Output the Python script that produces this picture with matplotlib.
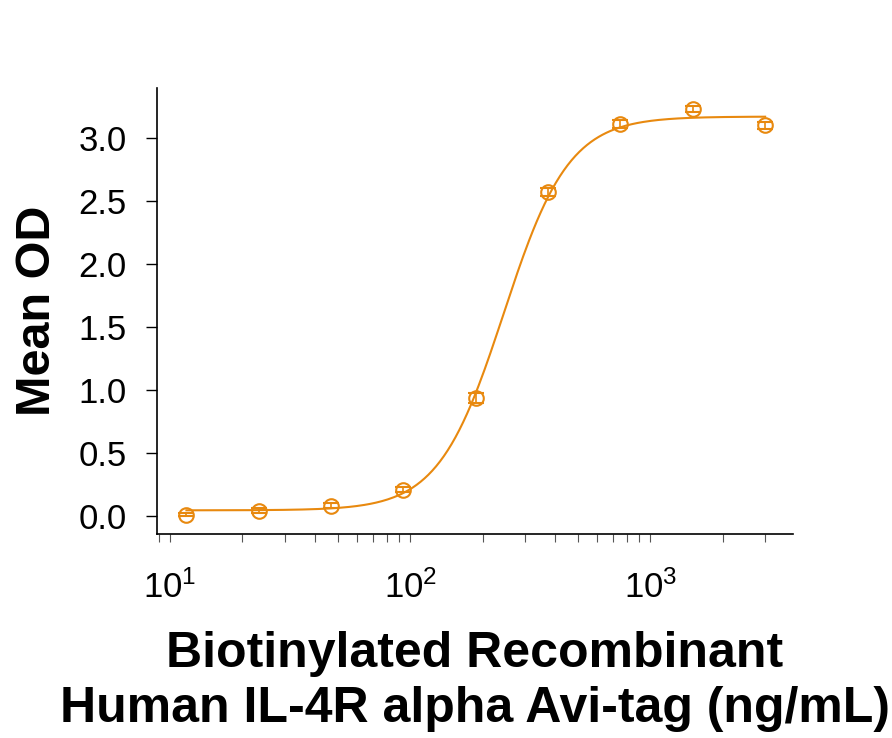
import matplotlib
matplotlib.use("Agg")
import matplotlib.pyplot as plt
import numpy as np

plt.rcParams['font.family'] = ['Liberation Sans', 'DejaVu Sans']
plt.rcParams['mathtext.fontset'] = 'custom'
plt.rcParams['mathtext.rm'] = 'Liberation Sans'
plt.rcParams['mathtext.it'] = 'Liberation Sans'
plt.rcParams['mathtext.default'] = 'regular'

# data
conc = [11.72, 23.44, 46.88, 93.75, 187.5, 375, 750, 1500, 3000]
mean_od = [0.01, 0.04, 0.08, 0.21, 0.94, 2.57, 3.11, 3.23, 3.10]
od_err = [0.01, 0.02, 0.02, 0.02, 0.04, 0.03, 0.03, 0.02, 0.03]

# 4PL fit parameters (bottom, top, ec50, hill)
FIT_BOTTOM = 0.045
FIT_TOP = 3.17
FIT_EC50 = 245
FIT_HILL = 3.2

y_ticks = [0.0, 0.5, 1.0, 1.5, 2.0, 2.5, 3.0]
ORANGE = '#E8890F'

fig = plt.figure(figsize=(8.92, 7.38), dpi=100)
ax = fig.add_axes([0.176, 0.2764, 0.713, 0.6044])

xs = np.logspace(np.log10(conc[0]), np.log10(conc[-1]), 300)
fit = FIT_BOTTOM + (FIT_TOP - FIT_BOTTOM) / (1 + (FIT_EC50 / xs) ** FIT_HILL)
ax.plot(xs, fit, color=ORANGE, lw=1.5)
ax.errorbar(conc, mean_od, yerr=od_err, fmt='o', mfc='none', mec=ORANGE,
            ecolor=ORANGE, ms=10.5, mew=1.5, capsize=6, elinewidth=1.2, capthick=1.2)

ax.set_xscale('log')
ax.set_xlim(8.84, 3917)
ax.set_ylim(-0.143, 3.397)
ax.set_yticks(y_ticks)
ax.set_yticklabels([f"{v:.1f}" for v in y_ticks])

for s in ['top', 'right']:
    ax.spines[s].set_visible(False)
for s in ['left', 'bottom']:
    ax.spines[s].set_linewidth(1.2)

ax.tick_params(axis='y', which='major', length=8, width=1, pad=14, labelsize=25)
ax.tick_params(axis='x', which='major', length=6, width=0.8, pad=20, labelsize=25,
               color='#555555')
ax.tick_params(axis='x', which='minor', length=6, width=0.8, color='#555555')

ax.set_ylabel('Mean OD', fontsize=35, fontweight='bold', labelpad=13)
ax.set_xlabel('Biotinylated Recombinant\nHuman IL-4R alpha Avi-tag (ng/mL)',
              fontsize=36, fontweight='bold', labelpad=19, linespacing=1.25)

fig.savefig('out.png', dpi=100)
